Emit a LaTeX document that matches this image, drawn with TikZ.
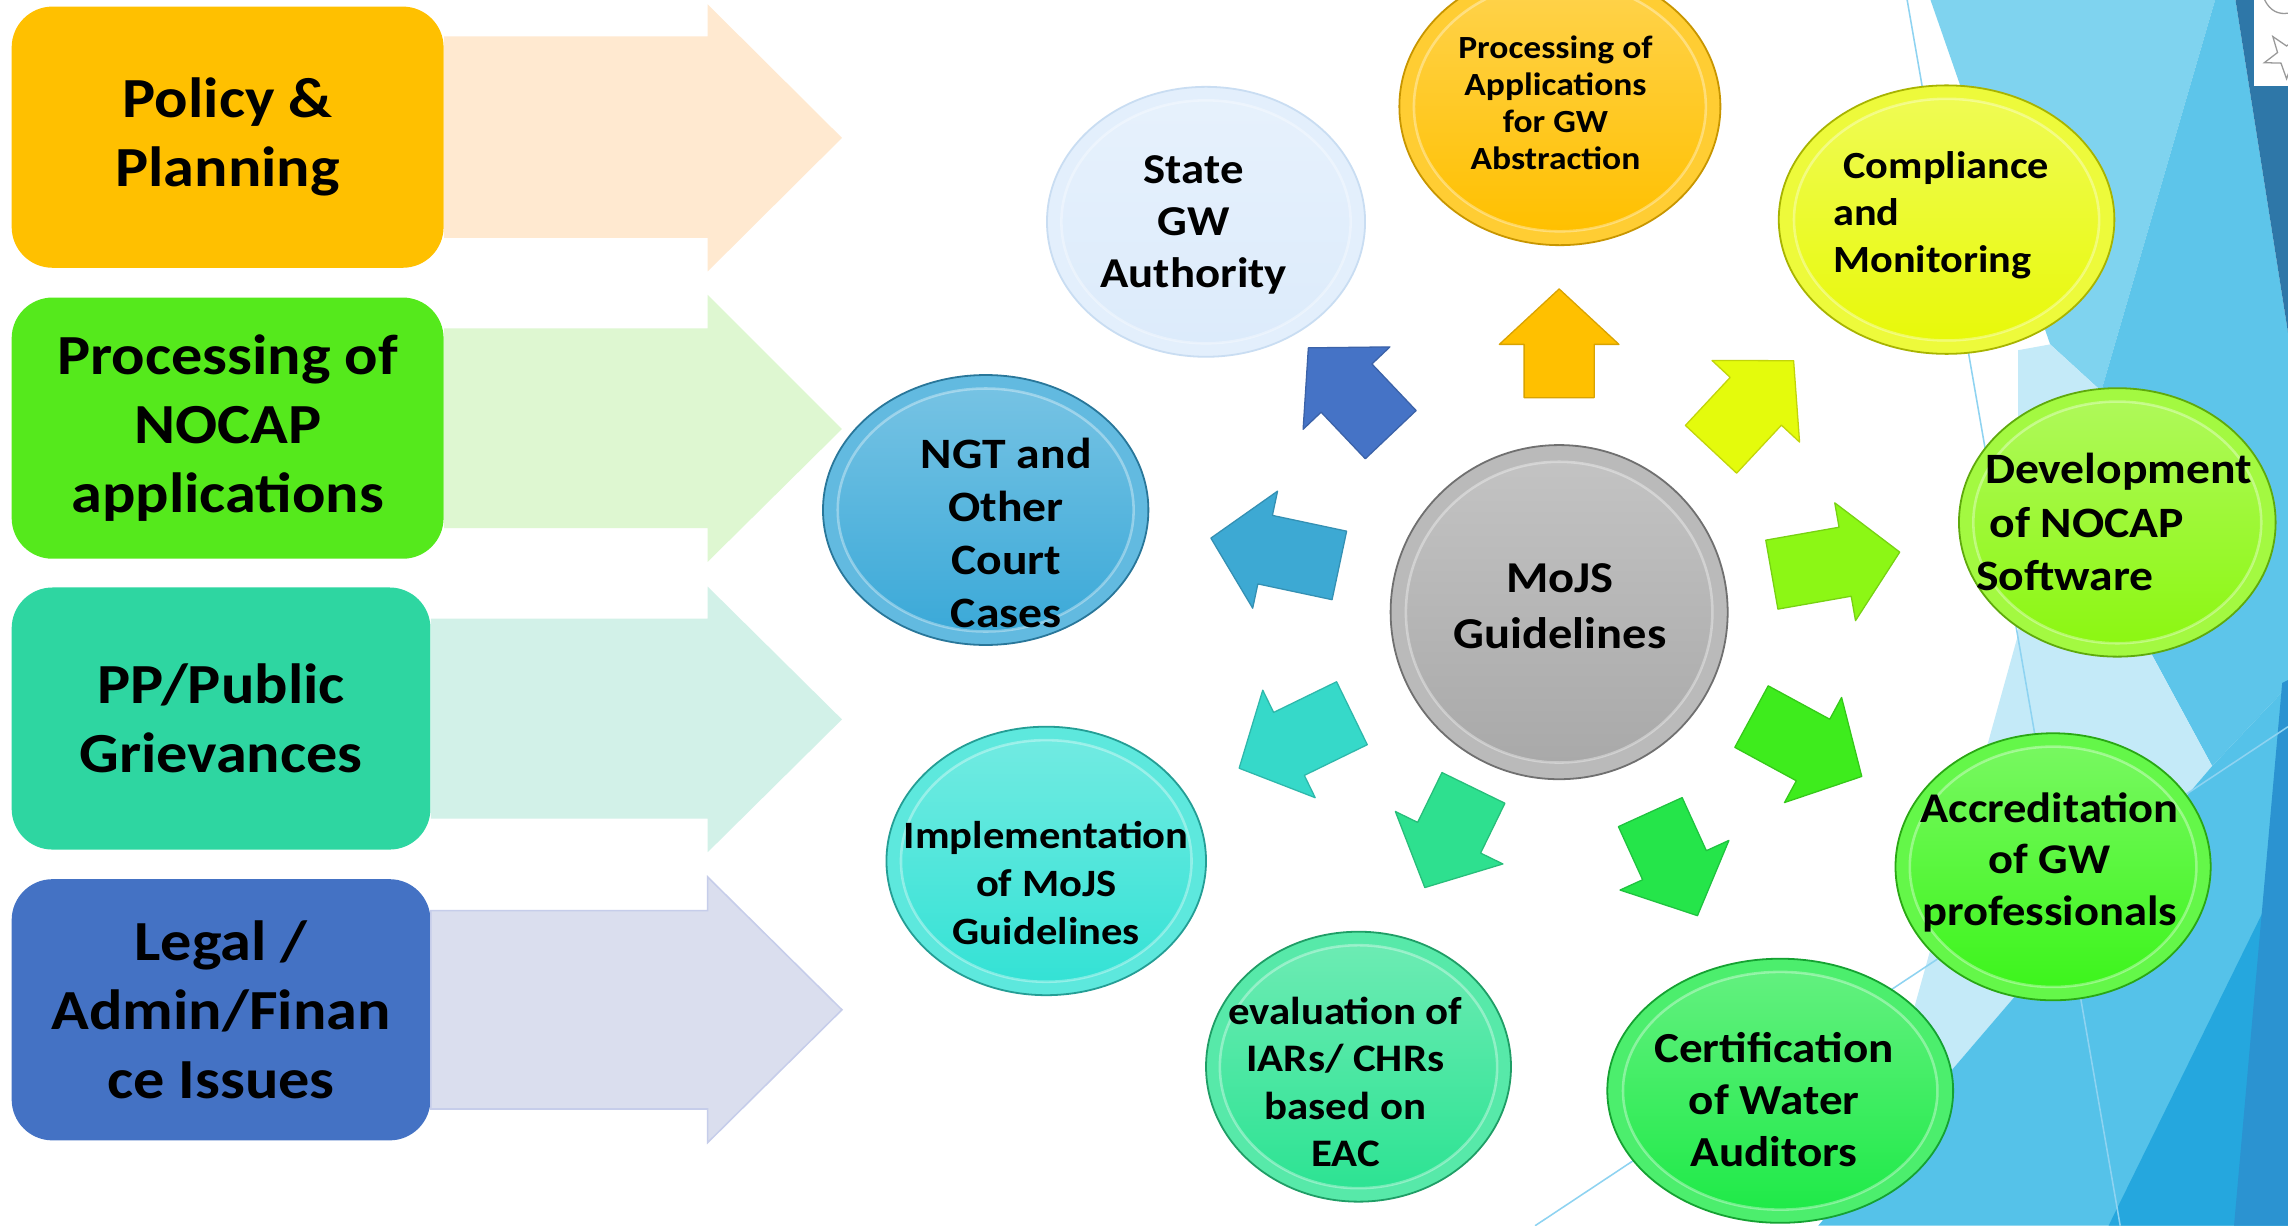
\documentclass[tikz,border=0pt]{standalone}
\usepackage{fontspec}
\setmainfont{Carlito}[FakeStretch=1.1]
\usetikzlibrary{shapes.geometric}

% box colours
\definecolor{bxOrange}{HTML}{FFC000}
\definecolor{bxGreen}{HTML}{55E91C}
\definecolor{bxTeal}{HTML}{2ED6A1}
\definecolor{bxBlue}{HTML}{4472C4}
% big light arrows
\definecolor{laOrange}{HTML}{FFE9D0}
\definecolor{laGreen}{HTML}{DEF7D1}
\definecolor{laTeal}{HTML}{D2F1E8}
\definecolor{laBlue}{HTML}{DADEEE}
\definecolor{laBlueEdge}{HTML}{C6CDEA}
% small arrows
\definecolor{saA}{HTML}{FFC000}
\definecolor{saB}{HTML}{E4FB0C}
\definecolor{saC}{HTML}{8CF715}
\definecolor{saD}{HTML}{3EEC1D}
\definecolor{saE}{HTML}{25E54A}
\definecolor{saF}{HTML}{2EE08F}
\definecolor{saG}{HTML}{36D9C9}
\definecolor{saH}{HTML}{3DA9D3}
\definecolor{saI}{HTML}{4573C6}
% bubbles
\definecolor{bState}{HTML}{DCEBFB}
\definecolor{bStateE}{HTML}{C9DDF2}
\definecolor{bProc}{HTML}{FFC000}
\definecolor{bProcE}{HTML}{C89600}
\definecolor{bComp}{HTML}{E8F90A}
\definecolor{bCompE}{HTML}{A8B400}
\definecolor{bDev}{HTML}{8CF712}
\definecolor{bDevE}{HTML}{5FAA0C}
\definecolor{bAccr}{HTML}{3DF51C}
\definecolor{bAccrE}{HTML}{2AA814}
\definecolor{bCert}{HTML}{1FEA48}
\definecolor{bCertE}{HTML}{15A232}
\definecolor{bEval}{HTML}{2DE393}
\definecolor{bEvalE}{HTML}{1F9E66}
\definecolor{bImpl}{HTML}{34E2D5}
\definecolor{bImplE}{HTML}{249E95}
\definecolor{bNgt}{HTML}{3BA9D8}
\definecolor{bNgtE}{HTML}{29779A}
\definecolor{bMojs}{HTML}{A9A9A9}
\definecolor{bMojsE}{HTML}{707070}
% background facets
\definecolor{fLight}{HTML}{7FD3EF}
\definecolor{fMed}{HTML}{5DC5EA}
\definecolor{fDark}{HTML}{2E77A8}
\definecolor{fPale}{HTML}{C4EAF8}
\definecolor{fMed2}{HTML}{55C2E9}
\definecolor{fDeep}{HTML}{25A7DE}
\definecolor{fStripe}{HTML}{2B93D1}
\definecolor{fLine}{HTML}{8ED3F1}

\newcommand\bub[7]{%
  \node[bubble, minimum width=#4*0.02cm, minimum height=#5*0.02cm,
        fill=#6!80!white, draw=#7, line width=0.7pt] (#1) at (#2,#3) {};
  \path[top color=#6!70!white, bottom color=#6]
     (#1.center) ellipse [x radius=#4*0.0091cm, y radius=#5*0.009cm];
  \draw[white, opacity=0.35, line width=1pt]
     (#1.center) ellipse [x radius=#4*0.0091cm, y radius=#5*0.009cm];
}
\newcommand\sarr[5]{%
  \begin{scope}[shift={(mojs.center)}, rotate=#1]
    \filldraw[fill=#4, draw=#5, line width=0.5pt, line join=round]
      (#2,-24) -- ({#2+#3-38},-24) -- ({#2+#3-38},-41) -- ({#2+#3},0)
      -- ({#2+#3-38},41) -- ({#2+#3-38},24) -- (#2,24) -- cycle;
  \end{scope}}

\begin{document}
\begin{tikzpicture}[x=0.02cm, y=-0.02cm,
  lbox/.style={rectangle, rounded corners=0.56cm, inner sep=0pt, align=center,
               font=\fontsize{22.1}{27}\selectfont\bfseries},
  bubble/.style={ellipse, inner sep=0pt},
  txt/.style 2 args={align=center, inner sep=0pt,
               font=\fontsize{#1}{#2}\selectfont\bfseries}]

\useasboundingbox (0,0) rectangle (1568,840);
\fill[white] (0,0) rectangle (1568,840);

% ---------- background facets ----------
\fill[fLight] (1323,0) -- (1518,0) -- (1440,268) -- (1405,236) -- cycle;
\fill[fMed] (1518,0) -- (1532,0) -- (1568,228) -- (1568,470) -- (1516,525)
            -- (1470,440) -- (1440,268) -- cycle;
\fill[fDark] (1532,0) -- (1568,0) -- (1568,228) -- cycle;
\fill[fPale] (1383,240) -- (1405,236) -- (1440,268) -- (1470,440) -- (1516,525)
            -- (1337,734) -- (1312,690) -- (1383,435) -- cycle;
\fill[fMed2] (1516,525) -- (1568,470) -- (1568,840) -- (1246,840) -- (1337,734) -- cycle;
\fill[fDeep] (1445,840) -- (1568,590) -- (1568,840) -- cycle;
\fill[fStripe] (1564,468) -- (1568,466) -- (1568,840) -- (1531,840) -- cycle;
\draw[fLine, line width=0.6pt] (1307,0) -- (1453,840);
\draw[fLine, line width=0.6pt] (1052,840) -- (1568,498);
% icon corner
\fill[white] (1545,0) rectangle (1568,58.7);
\begin{scope}
  \clip (1545,0) rectangle (1568,58.7);
  \draw[gray!80, line width=0.5pt] (1567,38) +(162:16) -- +(198:6.5) -- +(234:16)
     -- +(270:6.5) -- +(306:16) -- +(342:6.5) -- +(18:16) -- +(54:6.5) -- +(90:16)
     -- +(126:6.5) -- cycle;
  \draw[gray!80, line width=0.5pt] (1552,0) .. controls (1556,8) and (1562,10) .. (1568,9);
\end{scope}

% ---------- left boxes ----------
\node[lbox, fill=bxOrange, minimum width=296*0.02cm, minimum height=179*0.02cm]
  (b1) at (156,94) {Policy \&\\Planning};
\node[lbox, fill=bxGreen, minimum width=296*0.02cm, minimum height=179*0.02cm]
  (b2) at (156,293.4) {Processing of\\NOCAP\\applications};
\node[lbox, fill=bxTeal, minimum width=287*0.02cm, minimum height=179.6*0.02cm]
  (b3) at (151.5,492.4) {PP/Public\\Grievances};
\node[lbox, fill=bxBlue, minimum width=287*0.02cm, minimum height=179*0.02cm]
  (b4) at (151.5,692) {Legal /\\Admin/Finan\\ce Issues};

% ---------- big light arrows ----------
\fill[laOrange] (b1.east |- 0,25) -- (485,25) -- (485,3) -- (577,94.5)
   -- (485,186) -- (485,163) -- (b1.east |- 0,163) -- cycle;
\fill[laGreen] (b2.east |- 0,225) -- (485,225) -- (485,202) -- (577,294)
   -- (485,385) -- (485,362) -- (b2.east |- 0,362) -- cycle;
\fill[laTeal] (b3.east |- 0,424) -- (485,424) -- (485,402) -- (577,493)
   -- (485,584) -- (485,561) -- (b3.east |- 0,561) -- cycle;
\filldraw[fill=laBlue, draw=laBlueEdge, line width=0.6pt]
   (b4.east |- 0,624) -- (485,624) -- (485,601) -- (577,692)
   -- (485,783) -- (485,760) -- (b4.east |- 0,760) -- cycle;

% ---------- centre ----------
\bub{mojs}{1068.5}{419.5}{231}{229}{bMojs}{bMojsE}

% ---------- small arrows ----------
\sarr{90}{147}{74.5}{saA}{saA!85!black}
\sarr{47}{152.6}{83}{saB}{saB!85!black}
\sarr{10}{148}{89}{saC}{saC!85!black}
\sarr{-28.5}{150}{86}{saD}{saD!85!black}
\sarr{-65.5}{150.6}{78}{saE}{saE!85!black}
\sarr{-116}{134}{76}{saF}{saF!85!black}
\sarr{206}{158}{86}{saG}{saG!85!black}
\sarr{168}{154}{90}{saH}{saH!85!black}
\sarr{133.5}{167.7}{82}{saI}{saI!85!black}

% ---------- bubbles ----------
\bub{state}{826.5}{152}{218}{185}{bState}{bStateE}
\bub{procapp}{1069}{73}{220}{190}{bProc}{bProcE}
\bub{comp}{1334}{150.5}{230}{184}{bComp}{bCompE}
\bub{dev}{1451}{358}{217}{184}{bDev}{bDevE}
\bub{accr}{1407}{594}{216}{183}{bAccr}{bAccrE}
\bub{cert}{1220}{747.5}{237}{181}{bCert}{bCertE}
\bub{eval}{931}{731}{209}{185}{bEval}{bEvalE}
\bub{impl}{717}{590}{219}{184}{bImpl}{bImplE}
\bub{ngt}{675.5}{349.5}{223}{185}{bNgt}{bNgtE}

% ---------- bubble texts ----------
\node[txt={17.2}{21.5}] (mojs-t) at (1069,415.4) {MoJS\\Guidelines};
\node[txt={16.6}{20.3}] (state-t) at (818,153.8) {State\\GW\\Authority};
\node[txt={12.6}{14.4}] (procapp-t) at (1066,70.4)
  {Processing of\\Applications\\for GW\\Abstraction};
\node[txt={15}{18.3}, align=left, anchor=west] (comp-t) at (1256,147.6)
  {\hspace*{0.14cm}Compliance\\and\\Monitoring};
\node[txt={16.9}{20.7}, align=left, anchor=west] (dev-t) at (1354,357.7)
  {\hspace*{0.12cm}Development\\\hspace*{0.18cm}of NOCAP\\Software};
\node[txt={16.5}{20.2}] (accr-t) at (1404.6,591) {Accreditation\\of GW\\professionals};
\node[txt={16.7}{20.4}] (cert-t) at (1215.8,753.5) {Certification\\of Water\\Auditors};
\node[txt={15.2}{18.5}] (eval-t) at (922,741.3) {evaluation of\\IARs/ CHRs\\based on\\EAC};
\node[txt={15.1}{18.7}] (impl-t) at (717,605) {Implementation\\of MoJS\\Guidelines};
\node[txt={16.9}{20.7}] (ngt-t) at (689.6,365) {NGT and\\Other\\Court\\Cases};

\end{tikzpicture}
\end{document}
